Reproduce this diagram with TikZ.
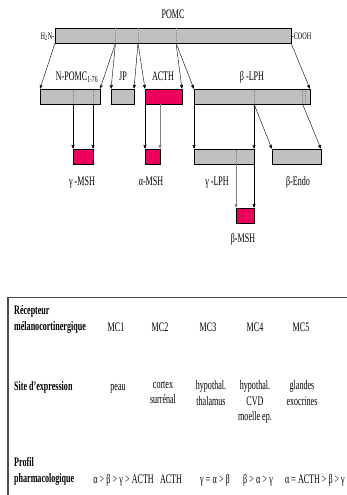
\documentclass[tikz,border=0pt]{standalone}
\usepackage{fontspec}
\setmainfont{Liberation Serif}[FakeStretch=0.62]
\usetikzlibrary{arrows,positioning}

\definecolor{bargray}{RGB}{192,192,192}
\definecolor{mshpink}{RGB}{236,0,92}

\tikzset{
  bar/.style={draw=black, line width=0.7pt, fill=bargray, minimum height=15pt, inner sep=0pt, outer sep=0pt},
  pep/.style={bar, fill=mshpink},
  cut/.style={gray, line width=0.5pt, dash pattern=on 1pt off 1pt},
  lbl/.style={inner sep=0pt, text height=8.6pt, text depth=0pt, font=\fontsize{13}{15.5}\selectfont},
  term/.style={lbl, text height=7pt, font=\fontsize{10}{12}\selectfont},
  cell/.style={inner sep=0pt, align=center, anchor=north, execute at begin node=\rule{0pt}{9.5pt}, font=\fontsize{13}{15.5}\selectfont},
  head/.style={cell, align=left, anchor=north west, font=\fontsize{13}{15.5}\selectfont\bfseries},
  frame/.style={draw=gray!60!black, line width=1.2pt}
}

\begin{document}
\begin{tikzpicture}[x=1pt,y=-1pt,>=stealth',shorten >=0.5pt]
  \useasboundingbox (0,0) rectangle (347,495);

  % precursor
  \node[bar, minimum width=236pt] (pomc) at (173,35.5) {};
  \node[lbl] (pomcname) at (173,14) {POMC};
  \node[term, anchor=east] (nterm) at (54.5,36) {H\textsubscript{2}N-};
  \node[term, anchor=west] (cterm) at (291.5,36) {-COOH};
  \coordinate (p1) at (115.5,43);
  \coordinate (p2) at (138,43);
  \coordinate (p3) at (176,43);
  \draw[cut] (p1) -- +(0,-15);
  \draw[cut] (p2) -- +(0,-15);
  \draw[cut] (p3) -- +(0,-15);

  % first cleavage
  \node[bar, minimum width=60pt] (npomc) at (70,96.5) {};
  \node[bar, minimum width=23pt] (jp) at (122.5,96.5) {};
  \node[pep, minimum width=37pt] (acth) at (163.5,96.5) {};
  \node[bar, minimum width=116pt] (blph) at (252,96.5) {};
  \node[lbl] (npomcname) at (77,76) {N-POMC\textsubscript{1-76}};
  \node[lbl] (jpname) at (123,76) {JP};
  \node[lbl] (acthname) at (163,76) {ACTH};
  \node[lbl] (blphname) at (252,76) {β -LPH};
  \coordinate (n1) at (73,104);
  \coordinate (n2) at (93,104);
  \coordinate (a1) at (160,104);
  \coordinate (b1) at (254,104);
  \coordinate (b2) at (302.5,104);
  \draw[cut] (n1) -- +(0,-15);
  \draw[cut] (n2) -- +(0,-15);
  \draw[cut] (b1) -- +(0,-15);
  \draw[cut] (b2) -- +(0,-15);
  \draw[cut] (305,104) -- +(0,-15);

  \draw[->] (pomc.south west) -- (npomc.north west);
  \draw[->] (p1) -- (npomc.north east);
  \draw[->] (p1) -- (jp.north west);
  \draw[->] (p2) -- (jp.north east);
  \draw[->] (p2) -- (acth.north west);
  \draw[->] (p3) -- (acth.north east);
  \draw[->] (p3) -- (blph.north west);
  \draw[->] (pomc.south east) -- (blph.north east);

  % second cleavage
  \node[pep, minimum width=20pt] (gmsh) at (83,156.5) {};
  \node[pep, minimum width=15pt] (amsh) at (152.5,156.5) {};
  \node[bar, minimum width=60pt] (glph) at (224,156.5) {};
  \node[bar, minimum width=49pt] (bendo) at (296.5,156.5) {};
  \node[pep, minimum width=18pt] (bmsh) at (245,215.5) {};
  \node[lbl] (gmshname) at (82,181) {γ -MSH};
  \node[lbl] (amshname) at (151,181) {α-MSH};
  \node[lbl] (glphname) at (217,181) {γ -LPH};
  \node[lbl] (bendoname) at (298,181) {β-Endo};
  \node[lbl] (bmshname) at (243,238) {β-MSH};
  \coordinate (g1) at (236,164);
  \draw[cut] (g1) -- +(0,-15);

  \draw[->] (n1) -- (gmsh.north west);
  \draw[->] (n2) -- (gmsh.north east);
  \draw[->] (acth.south west) -- (amsh.north west);
  \draw[->, gray] (a1) -- (amsh.north east);
  \draw[->] (blph.south west) -- (glph.north west);
  \draw[->] (b1) -- (glph.north east);
  \draw[->] (b1) -- (bendo.north west);
  \draw[->] (b2) -- (bendo.north east);
  \draw[->, gray] (g1) -- (bmsh.north west);
  \draw[->] (glph.south east) -- (bmsh.north east);

  % receptor table
  \draw[frame] (8,497) -- (8,297.5) -- (349,297.5);
  \node[head] (rechead) at (14,305.5) {Récepteur\\mélanocortinergique};
  \node[lbl] (mc1) at (116,327) {MC1};
  \node[lbl] (mc2) at (160,327) {MC2};
  \node[lbl] (mc3) at (208,327) {MC3};
  \node[lbl] (mc4) at (255,327) {MC4};
  \node[lbl] (mc5) at (301,327) {MC5};

  \node[head] (sitehead) at (14,380.5) {Site d’expression};
  \node[cell] (site1) at (118,380.5) {peau};
  \node[cell] (site2) at (163,380.5) {cortex\\surrénal};
  \node[cell] (site3) at (211,380.5) {hypothal.\\thalamus};
  \node[cell] (site4) at (255,380.5) {hypothal.\\CVD\\moelle ep.};
  \node[cell] (site5) at (302,380.5) {glandes\\exocrines};

  \node[head] (profhead) at (14,457.5) {Profil\\pharmacologique};
  \node[lbl, anchor=east] (prof1) at (154,479) {α\,>\,β\,>\,γ\,>\,ACTH};
  \node[lbl] (prof2) at (171,479) {ACTH};
  \node[lbl] (prof3) at (215,479) {γ\,=\,α\,>\,β};
  \node[lbl] (prof4) at (258,479) {β\,>\,α\,>\,γ};
  \node[lbl] (prof5) at (315,479) {α = ACTH > β > γ};
\end{tikzpicture}
\end{document}
